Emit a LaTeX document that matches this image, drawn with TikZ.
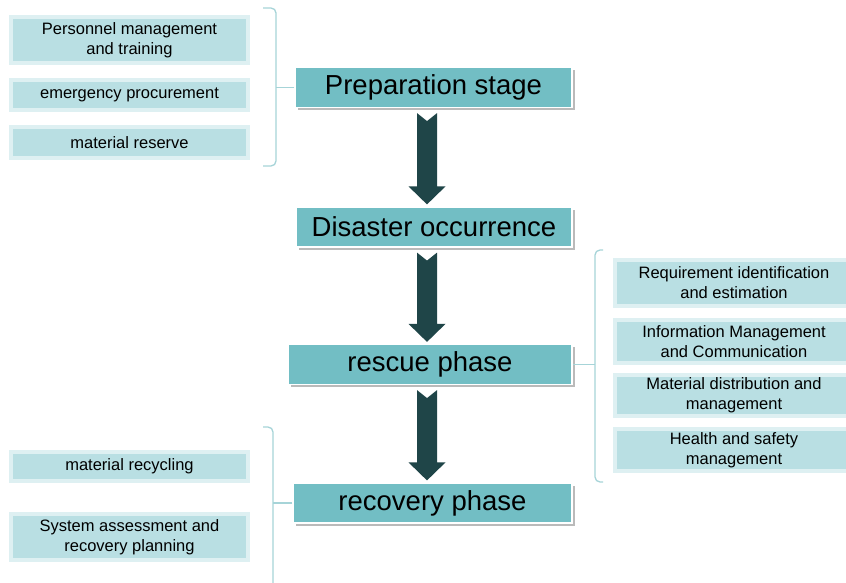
\documentclass[tikz,border=0pt]{standalone}
\usepackage{fontspec}
\setmainfont{Liberation Sans}
\usetikzlibrary{calc, shadows}

\definecolor{stagefill}{HTML}{72BEC4}
\definecolor{taskfill}{HTML}{B9DFE3}
\definecolor{taskedge}{HTML}{DEF0F2}
\definecolor{bracketcol}{HTML}{A6D4D8}
\definecolor{arrowdark}{HTML}{1F4548}

% thick notched arrow between two stages
\newcommand{\stagearrow}[2]{%
  \fill[arrowdark] let \p1=($(#1.south)+(0,5)$), \p2=($(#2.north)+(0,-2)$) in
    (417pt,\y1) -- (427pt,\y1-8pt) -- (437pt,\y1) -- (437pt,\y2+18pt)
    -- (445.5pt,\y2+18pt) -- (427pt,\y2) -- (408.5pt,\y2+18pt)
    -- (417pt,\y2+18pt) -- cycle;
}

\begin{document}
\begin{tikzpicture}[x=1pt, y=-1pt,
  stage/.style={fill=stagefill, draw=white, line width=1.2pt, inner sep=0pt,
    minimum height=40pt, font=\fontsize{27.5}{30}\selectfont,
    drop shadow={shadow xshift=2.5pt, shadow yshift=-2.5pt, opacity=0.45, fill=black!60}},
  task/.style={fill=taskfill, draw=taskedge, line width=4pt, inner sep=0pt,
    align=center, font=\fontsize{16.5}{20}\selectfont},
  bracket/.style={draw=bracketcol, line width=1.3pt, rounded corners=5pt}]

  \clip (0,0) rectangle (846,583);
  \fill[white] (0,0) rectangle (846,583);

  % main stages
  \node[stage, minimum width=277pt] (prep) at (433.5,87.5) {Preparation stage};
  \node[stage, minimum width=276pt] (disaster) at (434,227) {Disaster occurrence};
  \node[stage, minimum width=284pt] (rescue) at (430,364.5) {rescue phase};
  \node[stage, minimum width=279pt] (recovery) at (432.5,503) {recovery phase};

  \stagearrow{prep}{disaster}
  \stagearrow{disaster}{rescue}
  \stagearrow{rescue}{recovery}

  % preparation tasks
  \node[task, minimum width=237pt, minimum height=46pt] (staff) at (129.5,40) {Personnel management\\and training};
  \node[task, minimum width=237pt, minimum height=30pt] (procure) at (129.5,95) {emergency procurement};
  \node[task, minimum width=237pt, minimum height=31pt] (reserve) at (129.5,142.5) {material reserve};

  \coordinate (lbar) at (276,8);
  \draw[bracket] (263,8) -- (lbar) -- (276,166) -- (263,166);
  \draw[bracket] (prep.west) -- (prep.west -| lbar);

  % rescue tasks
  \node[task, minimum width=238pt, minimum height=46pt] (demand) at (734,283) {Requirement identification\\and estimation};
  \node[task, minimum width=238pt, minimum height=43pt] (inform) at (734,341.5) {Information Management\\and Communication};
  \node[task, minimum width=238pt, minimum height=41pt] (distrib) at (734,395.5) {Material distribution and\\management};
  \node[task, minimum width=238pt, minimum height=42pt] (health) at (734,450) {Health and safety\\management};

  \coordinate (rbar) at (595,250);
  \draw[bracket] (603,250) -- (rbar) -- (595,482) -- (603,482);
  \draw[bracket] (rescue.east) -- (rescue.east -| rbar);

  % recovery tasks
  \node[task, minimum width=237pt, minimum height=29pt] (recycle) at (129.5,466.5) {material recycling};
  \node[task, minimum width=237pt, minimum height=46pt] (assess) at (129.5,537) {System assessment and\\recovery planning};

  \coordinate (bbar) at (273,427);
  \draw[bracket] (263,427) -- (bbar) -- (273,600);
  \draw[bracket] (recovery.west) -- (recovery.west -| bbar);

\end{tikzpicture}
\end{document}
